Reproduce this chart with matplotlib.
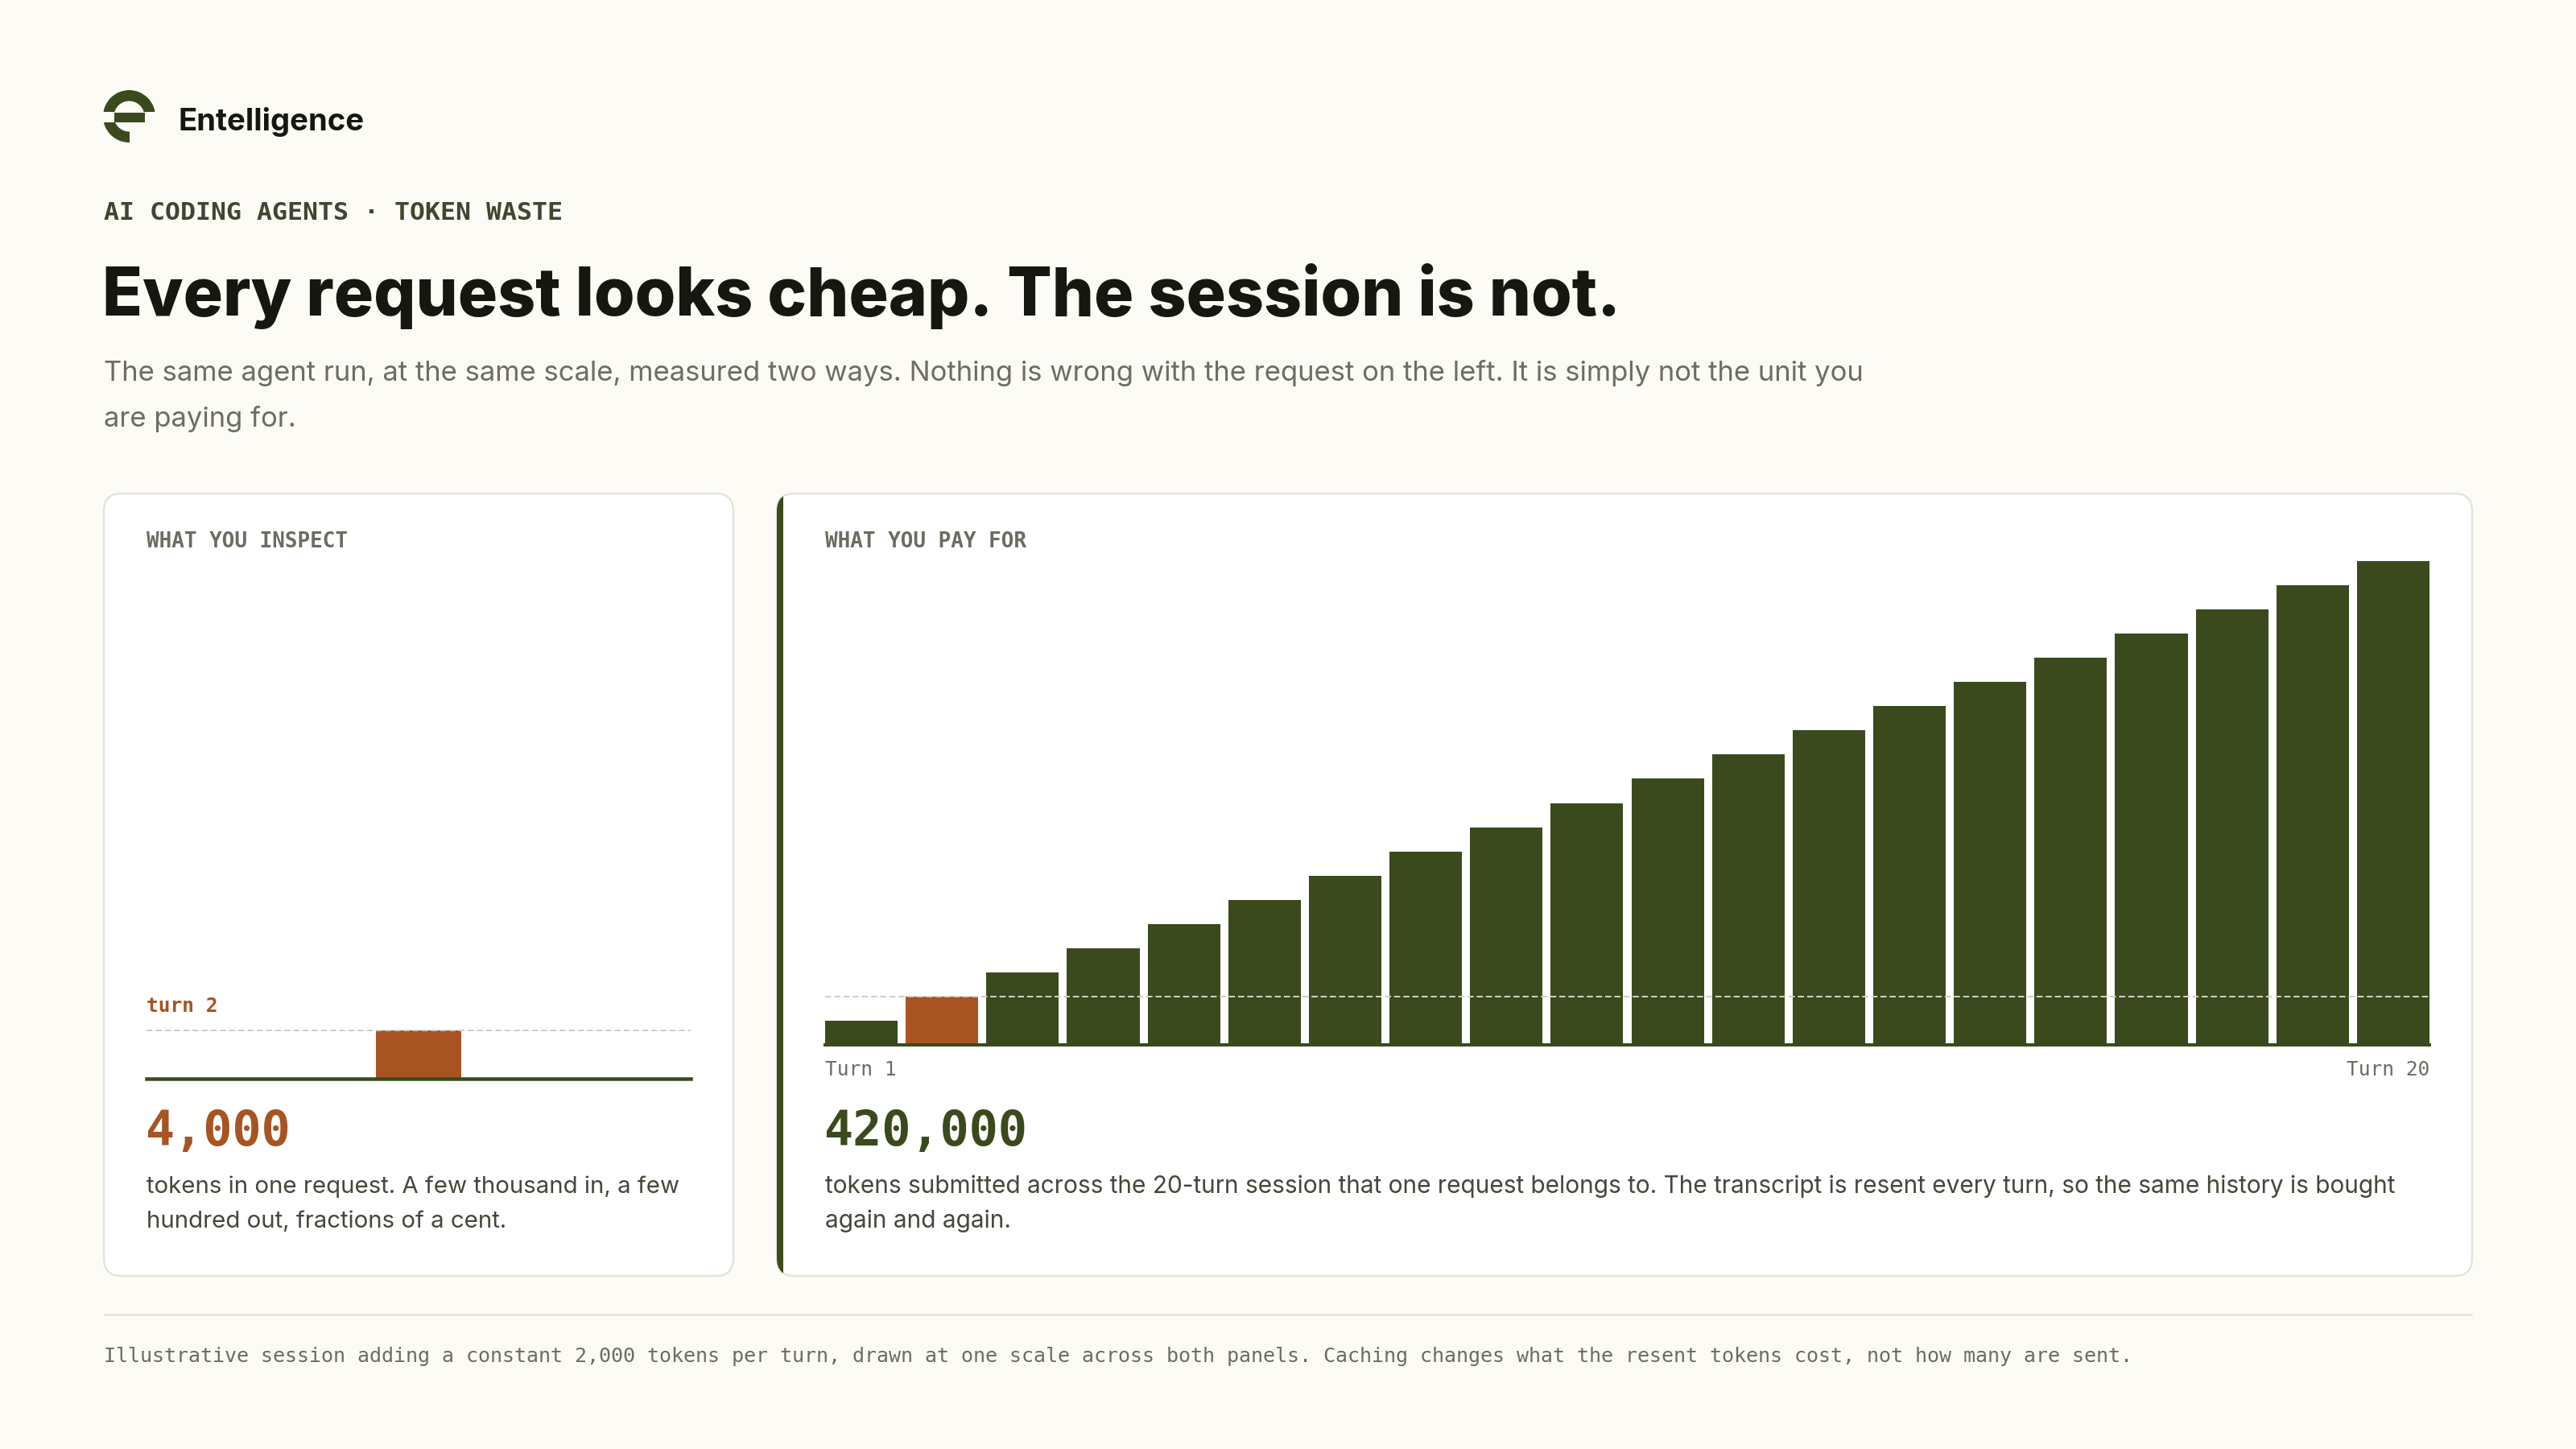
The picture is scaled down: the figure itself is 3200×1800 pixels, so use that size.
import matplotlib
matplotlib.use("Agg")
import matplotlib.pyplot as plt
from matplotlib.patches import FancyBboxPatch, Rectangle, Wedge

# ---------------- data ----------------
turns = [1, 2, 3, 4, 5, 6, 7, 8, 9, 10, 11, 12, 13, 14, 15, 16, 17, 18, 19, 20]
session_tokens = [2000, 4000, 6000, 8000, 10000, 12000, 14000, 16000, 18000, 20000,
                  22000, 24000, 26000, 28000, 30000, 32000, 34000, 36000, 38000, 40000]
inspected_turn = 2
inspected_tokens = 4000
first_label = "Turn 1"
last_label = "Turn 20"

brand = "Entelligence"
kicker = "AI CODING AGENTS · TOKEN WASTE"
title = "Every request looks cheap. The session is not."
subtitle = ["The same agent run, at the same scale, measured two ways. Nothing is wrong with the request on the left. It is simply not the unit you",
            "are paying for."]
left_label = "WHAT YOU INSPECT"
right_label = "WHAT YOU PAY FOR"
left_desc = ["tokens in one request. A few thousand in, a few",
             "hundred out, fractions of a cent."]
right_desc = ["tokens submitted across the 20-turn session that one request belongs to. The transcript is resent every turn, so the same history is bought",
              "again and again."]
footer = ("Illustrative session adding a constant 2,000 tokens per turn, drawn at one scale across both panels. "
          "Caching changes what the resent tokens cost, not how many are sent.")

# ---------------- style ----------------
BG = "#fcfbf6"
CARD = "#ffffff"
BORDER = "#e4e3dc"
GREEN = "#3b4a1c"
ORANGE = "#a85322"
INK = "#16170f"
SUB = "#6d6d62"
KICK = "#3f4630"
LABEL = "#6c6c60"
DESC = "#45473a"
DASH = "#cfcfc7"
SANS = ["Inter", "DejaVu Sans"]
MONO = ["DejaVu Sans Mono"]

W, H, DPI = 3200, 1800, 200


def pt(px):
    return px * 72.0 / DPI


fig = plt.figure(figsize=(W / DPI, H / DPI), dpi=DPI, facecolor=BG)
ov = fig.add_axes([0, 0, 1, 1])
ov.set_xlim(0, W)
ov.set_ylim(H, 0)
ov.axis("off")
ov.set_zorder(0)
renderer = fig.canvas.get_renderer()


def fit(t, target_px, lo=0.85, hi=1.15):
    bb = t.get_window_extent(renderer)
    s = target_px / bb.width
    s = max(lo, min(hi, s))
    t.set_fontsize(t.get_fontsize() * s)


# ---------------- logo ----------------
cx, cy, R, w = 160.5, 144.5, 32.5, 13.5
top_ring = Wedge((cx, cy), R, 0, 360, width=w, facecolor=GREEN, edgecolor="none")
ov.add_patch(top_ring)
clip1 = Rectangle((cx - 40, cy - 40), 80, 40 - 5.5, transform=ov.transData)
top_ring.set_clip_path(clip1)
bot_ring = Wedge((cx, cy), R, 0, 360, width=w, facecolor=GREEN, edgecolor="none")
ov.add_patch(bot_ring)
clip2 = Rectangle((cx - 40, cy + 7.5), 40.5, 40, transform=ov.transData)
bot_ring.set_clip_path(clip2)
ov.add_patch(Rectangle((cx - R + w, cy - 4.5), 2 * (R - w), 12, facecolor=GREEN, edgecolor="none"))

t = ov.text(222, 162, brand, family=SANS, weight="bold", fontsize=pt(37), color=INK, va="baseline")
fit(t, 231)

# ---------------- header ----------------
ov.text(129, 273, kicker, family=MONO, weight="bold", fontsize=pt(31.5), color=KICK, va="baseline")
t = ov.text(127, 392, title, family=SANS, weight="heavy", fontsize=pt(87), color=INK, va="baseline")
fit(t, 1885, lo=0.75)
t = ov.text(129, 473, subtitle[0], family=SANS, fontsize=pt(32), color=SUB, va="baseline")
fit(t, 2185)
ov.text(129, 530, subtitle[1], family=SANS, fontsize=t.get_fontsize(), color=SUB, va="baseline")

# ---------------- cards ----------------
lc = FancyBboxPatch((129, 613), 911 - 129, 1585 - 613, boxstyle="round,pad=0,rounding_size=22",
                    facecolor=CARD, edgecolor=BORDER, linewidth=pt(2.5))
ov.add_patch(lc)
rc = FancyBboxPatch((965, 613), 3071 - 965, 1585 - 613, boxstyle="round,pad=0,rounding_size=22",
                    facecolor=CARD, edgecolor=BORDER, linewidth=pt(2.5))
ov.add_patch(rc)
stripe = Rectangle((963, 600), 9.5, 1000, facecolor=GREEN, edgecolor="none")
ov.add_patch(stripe)
stripe.set_clip_path(rc)

ov.text(182, 680, left_label, family=MONO, weight="bold", fontsize=pt(26), color=LABEL, va="baseline")
ov.text(1025, 680, right_label, family=MONO, weight="bold", fontsize=pt(26), color=LABEL, va="baseline")

# ---------------- charts (shared scale) ----------------
K = (1298 - 697) / 40000.0      # px per token
YMAX = 42000


def add_px_axes(x0, x1, y_base):
    h = YMAX * K
    ax = fig.add_axes([x0 / W, 1 - y_base / H, (x1 - x0) / W, h / H])
    ax.set_ylim(0, YMAX)
    ax.set_facecolor("none")
    for s in ax.spines.values():
        s.set_visible(False)
    ax.set_xticks([])
    ax.set_yticks([])
    return ax


# left panel: one request
axl = add_px_axes(182, 858, 1340)
axl.bar([inspected_turn], [inspected_tokens], width=1.0, color=ORANGE, zorder=2)
axl.set_xlim(inspected_turn - 3.16, inspected_turn + 3.16)
axl.axhline(0, color=GREEN, lw=pt(4.5), zorder=3, clip_on=False)
axl.axhline(inspected_tokens, color=DASH, lw=pt(2), ls=(0, (3.8, 1.9)), zorder=4)

ov.text(182, 1257, f"turn {inspected_turn}", family=MONO, weight="bold", fontsize=pt(24.5), color=ORANGE, va="baseline")
ov.text(180, 1423, f"{inspected_tokens:,}", family=MONO, weight="bold", fontsize=pt(60), color=ORANGE, va="baseline")
t = ov.text(182, 1482, left_desc[0], family=SANS, fontsize=pt(29), color=DESC, va="baseline")
fit(t, 663)
ov.text(182, 1525, left_desc[1], family=SANS, fontsize=t.get_fontsize(), color=DESC, va="baseline")

# right panel: the whole session
axr = add_px_axes(1025, 3018, 1298)
colors = [ORANGE if tt == inspected_turn else GREEN for tt in turns]
axr.bar(turns, session_tokens, width=0.9, color=colors, zorder=2)
axr.set_xlim(turns[0] - 0.45, turns[-1] + 0.45)
axr.axhline(0, color=GREEN, lw=pt(4), zorder=3, clip_on=False)
axr.axhline(inspected_tokens, color=DASH, lw=pt(2), ls=(0, (3.8, 1.9)), zorder=4)

ov.text(1025, 1336, first_label, family=MONO, fontsize=pt(24.5), color=LABEL, va="baseline")
ov.text(3018, 1336, last_label, family=MONO, fontsize=pt(24.5), color=LABEL, va="baseline", ha="right")
ov.text(1023, 1423, f"{sum(session_tokens):,}", family=MONO, weight="bold", fontsize=pt(60), color=GREEN, va="baseline")
t = ov.text(1025, 1482, right_desc[0], family=SANS, fontsize=pt(29), color=DESC, va="baseline")
fit(t, 1953)
ov.text(1025, 1525, right_desc[1], family=SANS, fontsize=t.get_fontsize(), color=DESC, va="baseline")

# ---------------- footer ----------------
ov.plot([129, 3071], [1633, 1633], color=BORDER, lw=pt(2.5), solid_capstyle="butt")
t = ov.text(129, 1692, footer, family=MONO, fontsize=pt(24.8), color=LABEL, va="baseline")
fit(t, 2524)

fig.savefig("out.png", dpi=DPI, facecolor=BG)
